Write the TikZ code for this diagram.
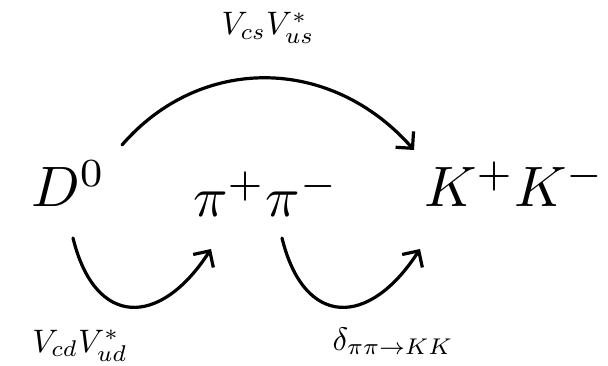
\documentclass[tikz,border=0pt]{standalone}
\usetikzlibrary{arrows.meta}
\begin{document}
\begin{tikzpicture}[x=1pt,y=-1pt,
  big/.style={scale=5.7, inner sep=0pt, anchor=base west},
  lab/.style={scale=3.25, inner sep=0pt, anchor=base},
  arr/.style={line width=3.2pt, line cap=round, -{Straight Barb[length=12pt,width=24pt,line width=3.2pt]}}]
\useasboundingbox (0,0) rectangle (608,366);
\node[big] (D) at (30,207) {$D^0$};
\node[big] (pp) at (192,217) {$\pi^+\pi^-$};
\node[big] (KK) at (423,207) {$K^+K^-$};
\node[lab] (ltop) at (268,35) {$V_{cs}V^*_{us}$};
\node[lab] (lbl) at (80,352) {$V_{cd}V^*_{ud}$};
\node[lab] (lbr) at (393,350) {$\delta_{\pi\pi\to KK}$};
\coordinate (a1) at (122,145);
\coordinate (a2) at (414,150);
\coordinate (b1) at (73,238);
\coordinate (b2) at (211,249);
\coordinate (c1) at (282,238);
\coordinate (c2) at (420,249);
\draw[arr] (a1) .. controls (200,55) and (330,55) .. (a2);
\draw[arr] (b1) .. controls (95,328) and (160,328) .. (b2);
\draw[arr] (c1) .. controls (304,328) and (369,328) .. (c2);
\end{tikzpicture}
\end{document}
